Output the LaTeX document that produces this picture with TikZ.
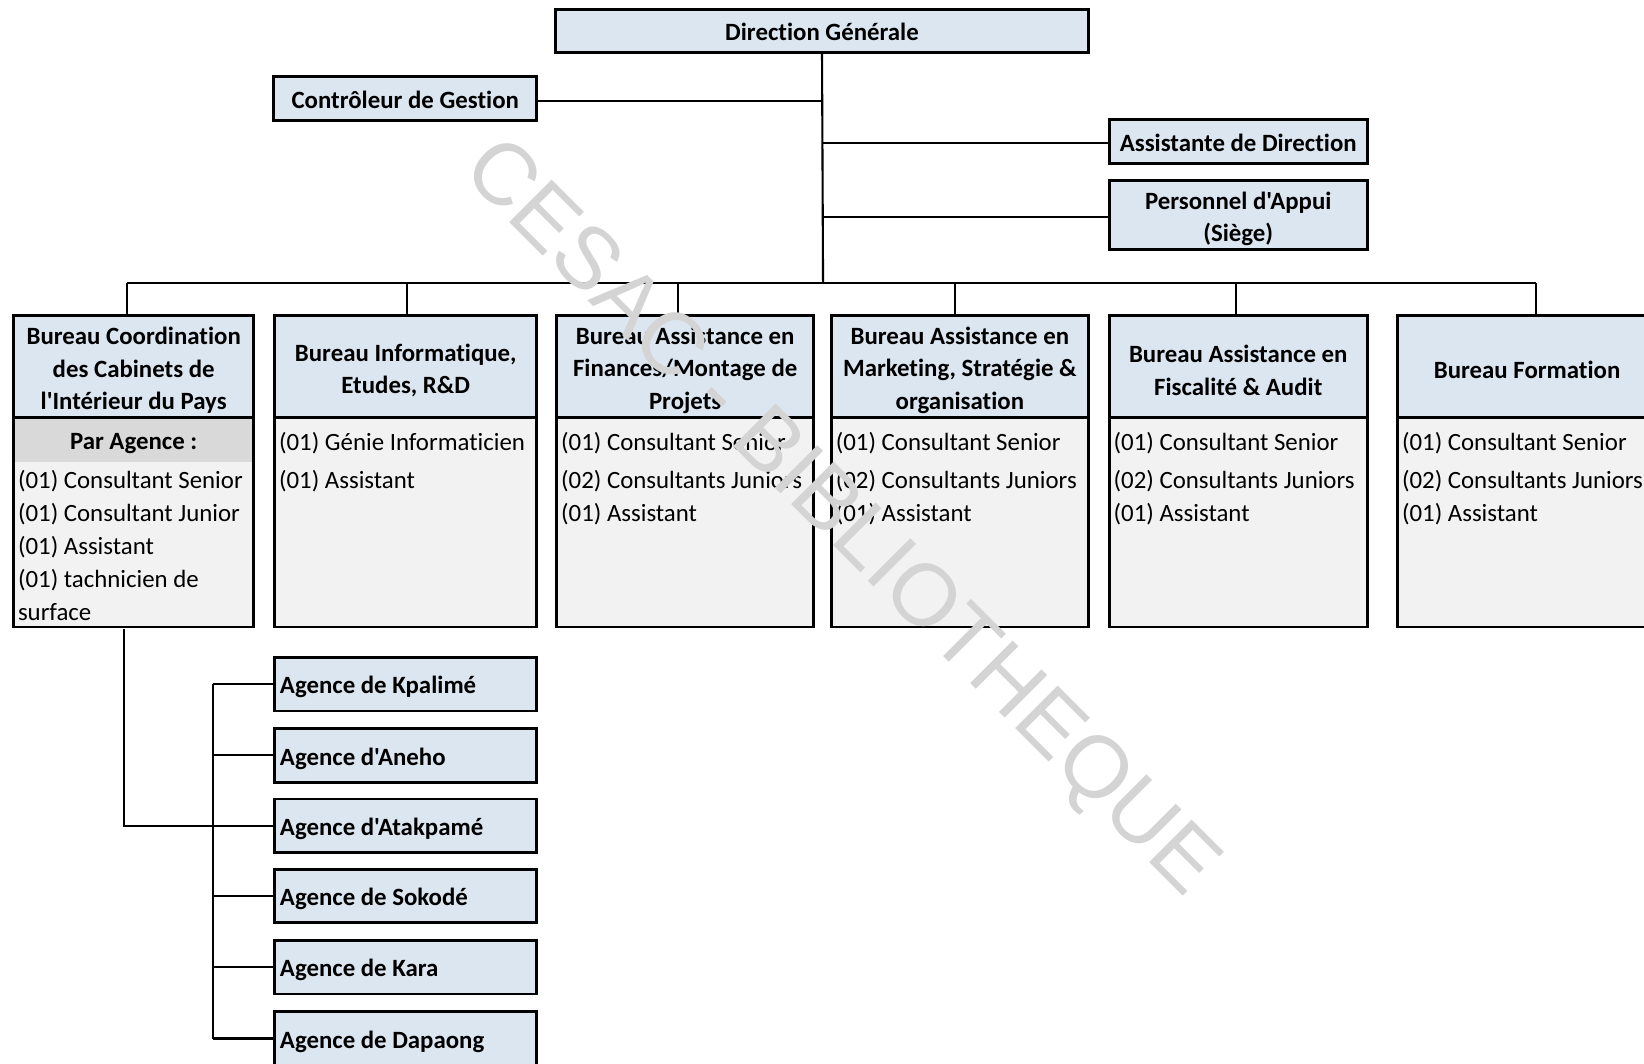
\documentclass[tikz,border=0pt]{standalone}
\usepackage{fontspec}
\setmainfont{Carlito}[Ligatures={TeXOff,NoCommon}]
\newfontfamily\wmfont{Liberation Sans}[Ligatures=TeXOff]
\usetikzlibrary{calc}
\definecolor{hdrblue}{RGB}{220,230,241}
\definecolor{bodygrey}{RGB}{242,242,242}
\definecolor{rowgrey}{RGB}{217,217,217}
\definecolor{wmgrey}{RGB}{212,212,212}
\newcommand\hstrut{\rule{0pt}{24pt}}
\newcommand\tstrut{\rule{0pt}{20pt}}
\newcommand\agtxt[1]{\makebox[240pt][l]{\raisebox{-3pt}[\height][\depth]{#1}}}
\tikzset{
  box/.style={draw=black, line width=2.6pt, inner sep=0pt, outer sep=0pt, anchor=north west},
  hdr/.style={box, fill=hdrblue, font=\fontsize{23.7}{31}\selectfont\bfseries, align=center},
  bodybox/.style={box, fill=bodygrey},
  bodytxt/.style={anchor=north west, inner sep=0pt, align=left, font=\fontsize{23.7}{31.5}\selectfont},
  link/.style={line width=2pt, draw=black},
  agence/.style={box, fill=hdrblue, font=\fontsize{23.7}{31}\selectfont\bfseries,
                 inner xsep=5pt, minimum width=250pt, minimum height=51pt},
}
\begin{document}
\begin{tikzpicture}[x=1pt,y=-1pt]
\useasboundingbox (0,0) rectangle (1568,1014);

% top level
\node[hdr, minimum width=508pt, minimum height=41pt] (dg) at (530,9) {\rule{0pt}{19pt}Direction Générale};
\node[hdr, minimum width=251pt, minimum height=42pt] (cg) at (261,73) {\tstrut Contrôleur de Gestion};
\node[hdr, minimum width=246pt, minimum height=42pt] (ad) at (1058,114) {\tstrut Assistante de Direction};
\node[hdr, minimum width=246pt, minimum height=66pt] (pa) at (1058,172) {\hstrut Personnel d'Appui\\(Siège)};

% bus coordinates
\coordinate (bus) at (785,270);
\coordinate (d1) at (121,270);
\coordinate (d2) at (388,270);
\coordinate (d3) at (647,270);
\coordinate (d4) at (911,270);
\coordinate (d5) at (1179,270);
\coordinate (d6) at (1465,270);

% bureau bodies
\node[bodybox, minimum width=229pt, minimum height=200pt] (b1) at (13,398) {};
\node[bodybox, minimum width=250pt, minimum height=200pt] (b2) at (262,398) {};
\node[bodybox, minimum width=245pt, minimum height=200pt] (b3) at (531,398) {};
\node[bodybox, minimum width=245pt, minimum height=200pt] (b4) at (793,398) {};
\node[bodybox, minimum width=246pt, minimum height=200pt] (b5) at (1058,398) {};
\node[bodybox, minimum width=247pt, minimum height=200pt] (b6) at (1333,398) {};

% bureau headers
\node[hdr, minimum width=229pt, minimum height=97pt] (h1) at (13,301) {\hstrut Bureau Coordination\\des Cabinets de\\l'Intérieur du Pays};
\node[hdr, minimum width=250pt, minimum height=97pt] (h2) at (262,301) {\hstrut Bureau Informatique,\\Etudes, R\&D};
\node[hdr, minimum width=245pt, minimum height=97pt] (h3) at (531,301) {\hstrut Bureau Assistance en\\Finances/Montage de\\Projets};
\node[hdr, minimum width=245pt, minimum height=97pt] (h4) at (793,301) {\hstrut Bureau Assistance en\\Marketing, Stratégie \&\\organisation};
\node[hdr, minimum width=246pt, minimum height=97pt] (h5) at (1058,301) {\hstrut Bureau Assistance en\\Fiscalité \& Audit};
\node[hdr, minimum width=247pt, minimum height=97pt] (h6) at (1333,301) {\hstrut Bureau Formation};

% grey row in box 1
\node[anchor=north west, fill=rowgrey, inner sep=0pt, minimum width=226pt, minimum height=41pt,
      font=\fontsize{23.7}{31}\selectfont\bfseries] (pag) at (14.3,399.3) {\raisebox{-3pt}[\height][\depth]{Par Agence :}};

% body texts
\node[bodytxt] (t1) at (17,448) {(01) Consultant Senior\\(01) Consultant Junior\\(01) Assistant\\(01) tachnicien de\\surface};
\node[bodytxt] (t2) at (266,412) {(01) Génie Informaticien\\[4.5pt](01) Assistant};
\node[bodytxt] (t3) at (535,412) {(01) Consultant Senior\\[4.5pt](02) Consultants Juniors\\(01) Assistant};
\node[bodytxt] (t4) at (797,412) {(01) Consultant Senior\\[4.5pt](02) Consultants Juniors\\(01) Assistant};
\node[bodytxt] (t5) at (1062,412) {(01) Consultant Senior\\[4.5pt](02) Consultants Juniors\\(01) Assistant};
\node[bodytxt] (t6) at (1337,412) {(01) Consultant Senior\\[4.5pt](02) Consultants Juniors\\(01) Assistant};

% agencies
\node[agence] (a1) at (262,627) {\agtxt{Agence de Kpalimé}};
\node[agence] (a2) at (262,695) {\agtxt{Agence d'Aneho}};
\node[agence] (a3) at (262,762) {\agtxt{Agence d'Atakpamé}};
\node[agence] (a4) at (262,829) {\agtxt{Agence de Sokodé}};
\node[agence] (a5) at (262,897) {\agtxt{Agence de Kara}};
\node[agence] (a6) at (262,965) {\agtxt{Agence de Dapaong}};

% connectors
\draw[link] (dg.south) -- (bus);
\draw[link] ($(cg.east)+(0,2)$) -- ($(cg.east -| dg.south)+(0,2)$);
\draw[link] ($(ad.west)+(0,1)$) -- ($(ad.west -| dg.south)+(0,1)$);
\draw[link] ($(pa.west)+(0,2)$) -- ($(pa.west -| dg.south)+(0,2)$);
\draw[link] (d1) -- (d6);
\draw[link] (d1) -- (d1 |- h1.north);
\draw[link] (d2) -- (d2 |- h2.north);
\draw[link] (d3) -- (d3 |- h3.north);
\draw[link] (d4) -- (d4 |- h4.north);
\draw[link] (d5) -- (d5 |- h5.north);
\draw[link] (d6) -- (d6 |- h6.north);

\coordinate (lb) at (118,600);
\coordinate (ab) at (203,652);
\draw[link] (lb) -- (lb |- a3.west) -- (a3.west);
\draw[link] (ab |- a1.west) -- (ab |- a6.west);
\foreach \i in {1,2,4,5,6} {
  \draw[link] (ab |- a\i.west) -- (a\i.west);
}

% watermark
\node[text=wmgrey, rotate=-45, inner sep=0pt, font=\wmfont\fontsize{83.5}{83.5}\selectfont] (wm) at (800,496) {CESAC - BIBLIOTHEQUE};
\end{tikzpicture}
\end{document}
